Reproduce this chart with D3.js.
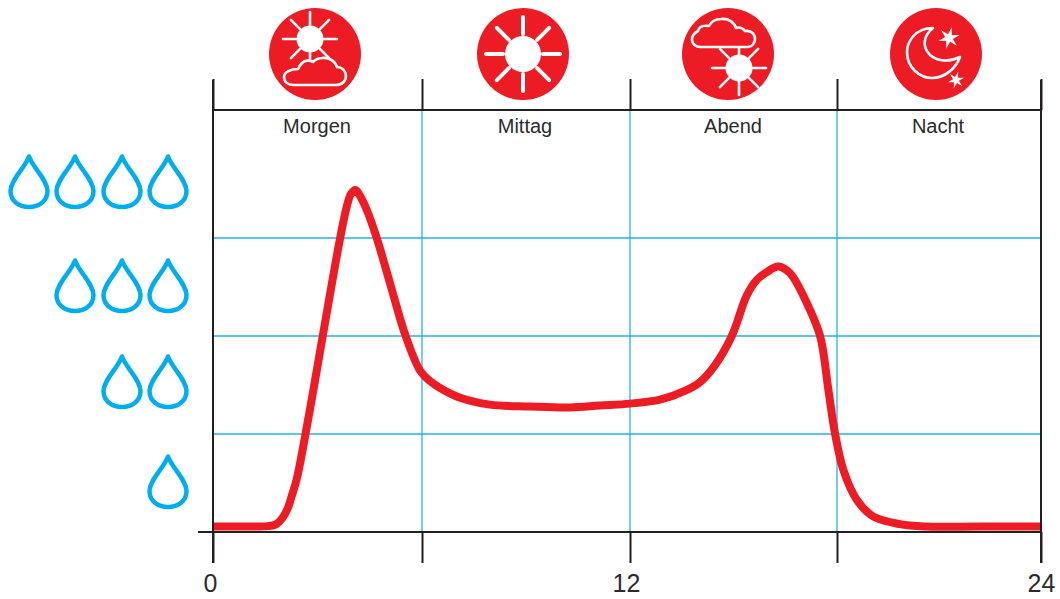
<!DOCTYPE html>
<html>
<head>
<meta charset="utf-8">
<script src="https://cdn.jsdelivr.net/npm/d3@7"></script>
<style>
  html, body { margin: 0; background: #fff; }
  svg { display: block; }
  text { font-family: "Liberation Sans", Arial, sans-serif; fill: #2b2b2b; }
</style>
</head>
<body>
<svg id="chart" width="1060" height="599"></svg>
<script>
// Stunde und Regenmenge (Anzahl Tropfen)
const hours = [0, 0.78, 1.58, 1.81, 2.01, 2.15, 2.27, 2.41, 2.78, 3.15, 3.65, 3.84, 3.96, 4.09, 4.22, 4.41, 4.7, 5.08, 5.53, 5.94, 6.23, 6.52, 7.1, 7.96, 9.12, 10.27, 11.13, 12, 12.87, 13.59, 14.03, 14.46, 14.95, 15.38, 15.67, 16, 16.3, 16.64, 17.12, 17.51, 17.75, 17.94, 18.19, 18.58, 19.06, 19.85, 20.59, 22.21, 24];
const rain = [0.056, 0.056, 0.06, 0.08, 0.153, 0.245, 0.378, 0.55, 1.245, 2, 3, 3.32, 3.45, 3.49, 3.43, 3.29, 3, 2.54, 2, 1.65, 1.54, 1.47, 1.37, 1.3, 1.28, 1.27, 1.29, 1.31, 1.35, 1.44, 1.53, 1.7, 2, 2.41, 2.57, 2.66, 2.71, 2.64, 2.34, 2, 1.45, 1.01, 0.63, 0.33, 0.16, 0.08, 0.056, 0.056, 0.056];

const dayParts = ["Morgen", "Mittag", "Abend", "Nacht"];
const dayPartLabelX = [317, 525, 733, 938];
const dayPartIconX = [315, 523, 728, 936];
const xTicks = [0, 6, 12, 18, 24];
const xLabels = { 0: "0", 12: "12", 24: "24" };
const levels = [1, 2, 3];
const dropRows = [4, 3, 2, 1];

const red = "#ed1c24", blue = "#1cb5ec", dark = "#231f20", dropBlue = "#00aeef";

const svg = d3.select("#chart");

const x = d3.scaleLinear().domain(xTicks).range([213, 422, 630, 837, 1041]);
const y = d3.scaleLinear().domain([0, 4.306]).range([532, 110]);
const axisTop = 80;

// Gitter
svg.append("g").selectAll("line").data(levels).join("line")
  .attr("x1", x(0)).attr("x2", x(24))
  .attr("y1", d => y(d)).attr("y2", d => y(d))
  .attr("stroke", blue).attr("stroke-width", 1.3);
svg.append("g").selectAll("line").data([6, 12, 18]).join("line")
  .attr("x1", d => x(d)).attr("x2", d => x(d))
  .attr("y1", y.range()[1]).attr("y2", y(0))
  .attr("stroke", blue).attr("stroke-width", 1.3);

// Kurve
const line = d3.line()
  .x((d, i) => x(hours[i]))
  .y(d => y(d))
  .curve(d3.curveCatmullRom.alpha(0.5));
svg.append("path").datum(rain)
  .attr("d", line)
  .attr("fill", "none")
  .attr("stroke", red)
  .attr("stroke-width", 8)
  .attr("stroke-linejoin", "round");

// Achsen
const xAxis = d3.axisBottom(x).tickValues(xTicks).tickSize(31).tickSizeOuter(0)
  .tickFormat(d => xLabels[d] || "");
const gx = svg.append("g").attr("transform", `translate(0,${y(0)})`).call(xAxis);
gx.select(".domain").remove();
gx.selectAll("line").attr("stroke", dark).attr("stroke-width", 2);
gx.selectAll("text")
  .attr("font-size", 25)
  .attr("y", 42)
  .attr("dy", "0.71em")
  .attr("dx", d => d === 0 ? -3 : d === 12 ? -4 : 0)
  .style("fill", "#2b2b2b");

const gTop = svg.append("g").attr("transform", `translate(0,${y.range()[1]})`)
  .call(d3.axisTop(x).tickValues(xTicks).tickSize(31).tickFormat(""));
gTop.select(".domain").remove();
gTop.selectAll("line").attr("stroke", dark).attr("stroke-width", 2);

svg.append("line").attr("x1", 198).attr("x2", x(24)).attr("y1", y(0)).attr("y2", y(0))
  .attr("stroke", dark).attr("stroke-width", 2);
svg.append("line").attr("x1", x(0) - 1).attr("x2", x(24) + 1).attr("y1", y.range()[1]).attr("y2", y.range()[1])
  .attr("stroke", dark).attr("stroke-width", 2);
[0, 24].forEach(h => {
  svg.append("line").attr("x1", x(h)).attr("x2", x(h)).attr("y1", axisTop).attr("y2", 563)
    .attr("stroke", dark).attr("stroke-width", 2);
});

// Tageszeiten
svg.append("g").selectAll("text").data(dayParts).join("text")
  .attr("x", (d, i) => dayPartLabelX[i])
  .attr("y", 133)
  .attr("text-anchor", "middle")
  .attr("font-size", 20)
  .text(d => d);

// Tropfen
const dropPath = "M0,1.5 C4,13 18,24 18.5,36 C18.5,46 10,52 0,52 C-10,52 -18.5,46 -18.5,36 C-18,24 -4,13 0,1.5 Z";
const dropX = [168, 122, 75, 29];
const dropTop = [455, 355, 259, 155];
dropRows.forEach(count => {
  const top = dropTop[count - 1];
  d3.range(count).forEach(i => {
    svg.append("path")
      .attr("d", dropPath)
      .attr("transform", `translate(${dropX[i]},${top})`)
      .attr("fill", "none")
      .attr("stroke", dropBlue)
      .attr("stroke-width", 4.5)
      .attr("stroke-linejoin", "round");
  });
});

// Symbole
function sun(g, cx, cy, r, rayIn, rayOut, w) {
  d3.range(8).forEach(i => {
    const a = i * Math.PI / 4;
    g.append("line")
      .attr("x1", cx + rayIn * Math.cos(a)).attr("y1", cy + rayIn * Math.sin(a))
      .attr("x2", cx + rayOut * Math.cos(a)).attr("y2", cy + rayOut * Math.sin(a))
      .attr("stroke", "#fff").attr("stroke-width", w).attr("stroke-linecap", "round");
  });
  g.append("circle").attr("cx", cx).attr("cy", cy).attr("r", r).attr("fill", "#fff");
}
function outline(g, d, tx, ty) {
  g.append("path").attr("d", d)
    .attr("transform", `translate(${tx},${ty})`)
    .attr("fill", red).attr("stroke", "#fff").attr("stroke-width", 2.6)
    .attr("stroke-linejoin", "round");
}
function star(g, cx, cy, R, rIn, n, rot) {
  const pts = d3.range(n * 2).map(i => {
    const a = rot + i * Math.PI / n, rr = i % 2 ? rIn : R;
    return [cx + rr * Math.cos(a), cy + rr * Math.sin(a)];
  });
  g.append("path").attr("d", d3.line()(pts) + "Z").attr("fill", "#fff");
}

const cloudA = "M10,28 H53 C60,28 63,23 63,19 C63,14 59,10 54,10 C52,4 46,0 39,1 C35,1 32,3 30,5 C27,3 22,3 19,6 C17,8 16,10 15,12 C8,12 1,15 1,20 C1,25 5,28 10,28 Z";
const cloudB = "M8,29 H56 C60,29 63,25 63,21 C63,16 59,12 53,13 C51,10 47,9 44,10 C42,4 36,0 29,1 C23,1 19,4 17,8 C11,7 7,9 6,13 C2,15 0,18 0,22 C0,26 4,29 8,29 Z";
const moon = "M933,28 C915,28 907,42 907,52 C907,68 920,78 932,78 C945,78 956,68 960,57 C950,62 938,62 930,55 C922,47 923,36 933,28 Z";

const icons = svg.append("g");
dayPartIconX.forEach(cx => icons.append("circle").attr("cx", cx).attr("cy", 54).attr("r", 46).attr("fill", red));

sun(icons, 310, 39, 13.5, 14, 27, 2.6);
outline(icons, cloudA, 283, 57);

sun(icons, 523, 54, 18, 20, 37, 4);

sun(icons, 739, 68, 13.5, 14, 27, 2.6);
outline(icons, cloudB, 692, 18);

outline(icons, moon, 0, 0);
star(icons, 949, 38, 11, 4, 6, -Math.PI / 2 + 0.25);
star(icons, 956, 80, 8.5, 3, 6, -Math.PI / 2 + 0.25);
</script>
</body>
</html>
